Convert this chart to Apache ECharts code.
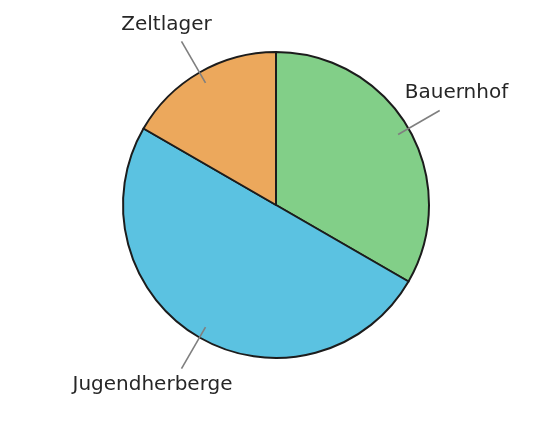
<!DOCTYPE html>
<html>
<head>
<meta charset="utf-8">
<script src="https://cdn.jsdelivr.net/npm/echarts@6/dist/echarts.min.js"></script>
<style>
html,body{margin:0;padding:0;background:#fff;}
#chart{width:552px;height:439px;}
</style>
</head>
<body>
<div id="chart"></div>
<script>
const categories = ['Bauernhof', 'Jugendherberge', 'Zeltlager'];
const values = [20, 30, 10];
const colors = ['#82cf88', '#5bc2e1', '#eca85c'];

const chart = echarts.init(document.getElementById('chart'), null, {renderer: 'canvas'});
const data = categories.map((c, i) => ({name: c, value: values[i], itemStyle: {color: colors[i]}}));
const center = [276, 205];
const font = {fontFamily: 'DejaVu Sans', fontSize: 20, color: '#262626'};
const labelNudge = [[-9, -6], [-12, -5], [2, 4]];

chart.setOption({
  animation: false,
  series: [
    {
      type: 'pie', center: center, radius: 153, startAngle: 90, clockwise: true,
      silent: true, avoidLabelOverlap: false, z: 2,
      label: {show: false}, labelLine: {show: false},
      itemStyle: {borderColor: '#1c1c1c', borderWidth: 2},
      emphasis: {disabled: true},
      data: data
    },
    {
      type: 'pie', center: center, radius: 141, startAngle: 90, clockwise: true,
      silent: true, avoidLabelOverlap: false, z: 5,
      itemStyle: {color: 'rgba(0,0,0,0)', borderWidth: 0},
      label: {show: true, position: 'outside', color: 'rgba(0,0,0,0)', formatter: ' '},
      labelLine: {show: true, length: 48, length2: 0, smooth: false,
        lineStyle: {color: '#7f7f7f', width: 1.6}},
      emphasis: {disabled: true},
      data: categories.map((c, i) => ({name: c, value: values[i]}))
    },
    {
      type: 'pie', center: center, radius: 153, startAngle: 90, clockwise: true,
      silent: true, avoidLabelOverlap: false, z: 6,
      itemStyle: {color: 'rgba(0,0,0,0)', borderWidth: 0},
      label: Object.assign({show: true, position: 'outside', formatter: '{b}', alignTo: 'none'}, font),
      labelLine: {show: false, length: 60, length2: 0},
      labelLayout: function (p) {
        const n = labelNudge[p.dataIndex];
        return {align: 'center', verticalAlign: 'middle', dx: n[0], dy: n[1]};
      },
      emphasis: {disabled: true},
      data: categories.map((c, i) => ({name: c, value: values[i]}))
    }
  ]
});
</script>
</body>
</html>
